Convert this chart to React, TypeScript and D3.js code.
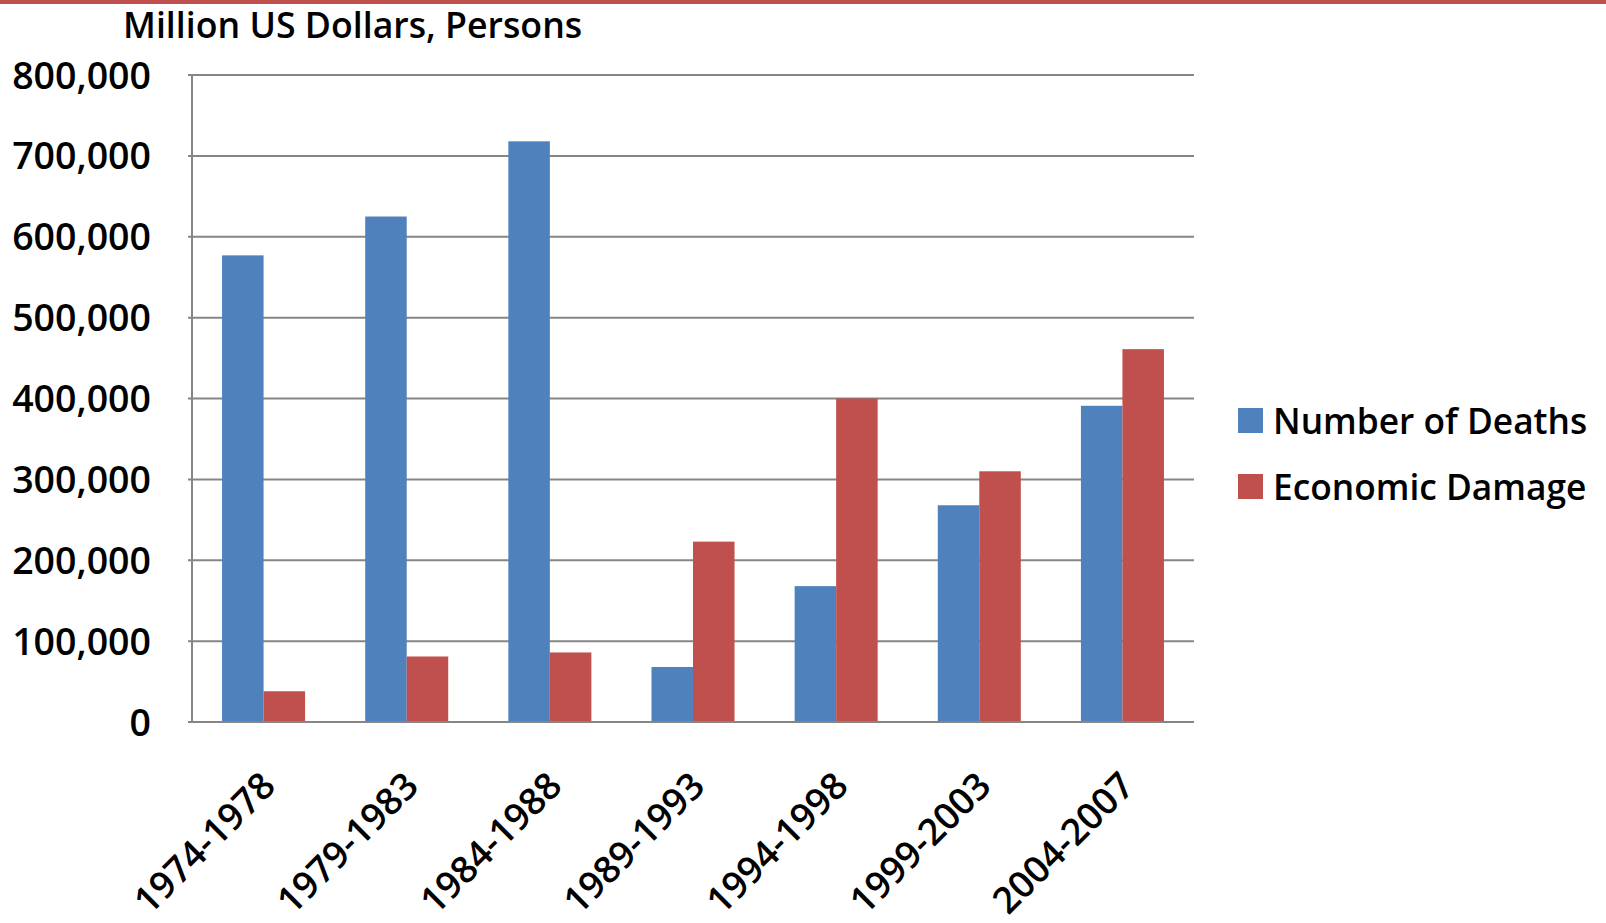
import React, { useRef, useEffect } from "react";
import * as d3 from "d3";

const periods = [
  "1974-1978",
  "1979-1983",
  "1984-1988",
  "1989-1993",
  "1994-1998",
  "1999-2003",
  "2004-2007",
];
const deaths = [577000, 625000, 718000, 68000, 168000, 268000, 391000];
const damage = [38000, 81000, 86000, 223000, 400000, 310000, 461000];
const seriesNames = ["Number of Deaths", "Economic Damage"];
const seriesColors = ["#4F81BD", "#C0504D"];
const yTicks = [0, 100000, 200000, 300000, 400000, 500000, 600000, 700000, 800000];

const chart_width = 1606;
const chart_height = 923;
const margin = { left: 192, right: 412, top: 75, bottom: 201 };
const font = "'Open Sans', 'Noto Sans', sans-serif";

const App: React.FC = () => {
  const d3Container = useRef<SVGSVGElement>(null);

  useEffect(() => {
    if (!d3Container.current) return;
    const svg = d3.select(d3Container.current);
    svg.selectAll("*").remove();

    const x0 = margin.left;
    const x1 = chart_width - margin.right;
    const yBase = chart_height - margin.bottom;

    const x_scale = d3
      .scaleBand<string>()
      .domain(periods)
      .range([x0, x1])
      .paddingInner(0.42)
      .paddingOuter(0.21);

    const x_inner = d3
      .scaleBand<number>()
      .domain([0, 1])
      .range([0, x_scale.bandwidth()]);

    const y_scale = d3
      .scaleLinear()
      .domain([0, 800000])
      .range([yBase, margin.top]);

    // top red rule
    svg
      .append("rect")
      .attr("x", 0)
      .attr("y", 0)
      .attr("width", chart_width)
      .attr("height", 4)
      .attr("fill", "#C0504D");

    // gridlines
    svg
      .append("g")
      .selectAll("line")
      .data(yTicks)
      .enter()
      .append("line")
      .attr("x1", x0 - 4)
      .attr("x2", x1)
      .attr("y1", (d) => y_scale(d))
      .attr("y2", (d) => y_scale(d))
      .attr("stroke", "#868686")
      .attr("stroke-width", 2);

    // left axis
    svg
      .append("line")
      .attr("x1", x0)
      .attr("x2", x0)
      .attr("y1", margin.top)
      .attr("y2", yBase)
      .attr("stroke", "#868686")
      .attr("stroke-width", 2);

    // y labels
    svg
      .append("g")
      .selectAll("text")
      .data(yTicks)
      .enter()
      .append("text")
      .attr("x", 151)
      .attr("y", (d) => y_scale(d))
      .attr("dy", "0.36em")
      .attr("text-anchor", "end")
      .attr("font-family", font)
      .attr("font-weight", 600)
      .attr("font-size", 37.5)
      .attr("fill", "#000")
      .text((d) => d3.format(",")(d));

    // bars
    const series = [deaths, damage];
    series.forEach((vals, si) => {
      svg
        .append("g")
        .selectAll("rect")
        .data(vals)
        .enter()
        .append("rect")
        .attr("x", (_d, i) => (x_scale(periods[i]) as number) + (x_inner(si) as number))
        .attr("y", (d) => y_scale(d))
        .attr("width", x_inner.bandwidth())
        .attr("height", (d) => yBase - y_scale(d))
        .attr("fill", seriesColors[si]);
    });

    // baseline on top of bars
    svg
      .append("line")
      .attr("x1", x0 - 4)
      .attr("x2", x1)
      .attr("y1", yBase)
      .attr("y2", yBase)
      .attr("stroke", "#868686")
      .attr("stroke-width", 2);

    // x labels
    svg
      .append("g")
      .selectAll("text")
      .data(periods)
      .enter()
      .append("text")
      .attr("transform", (d) => {
        const cx = (x_scale(d) as number) + x_scale.bandwidth() / 2 + 14;
        const cy = yBase + 66;
        return "translate(" + cx + "," + cy + ") rotate(-45)";
      })
      .attr("text-anchor", "end")
      .attr("font-family", font)
      .attr("font-weight", 600)
      .attr("font-size", 37)
      .attr("fill", "#000")
      .text((d) => d);

    // title
    svg
      .append("text")
      .attr("x", 123)
      .attr("y", 38)
      .attr("font-family", font)
      .attr("font-weight", 600)
      .attr("font-size", 35.7)
      .attr("fill", "#000")
      .text("Million US Dollars, Persons");

    // legend
    const legend = svg
      .append("g")
      .selectAll("g")
      .data(seriesNames)
      .enter()
      .append("g")
      .attr("transform", (_d, i) => "translate(1238," + (408 + i * 66) + ")");
    legend
      .append("rect")
      .attr("width", 25)
      .attr("height", 25)
      .attr("fill", (_d, i) => seriesColors[i]);
    legend
      .append("text")
      .attr("x", 35)
      .attr("y", 26)
      .attr("font-family", font)
      .attr("font-weight", 600)
      .attr("font-size", 35.3)
      .attr("fill", "#000")
      .text((d) => d);
  }, []);

  return (
    <svg
      ref={d3Container}
      width={chart_width}
      height={chart_height}
      style={{ position: "absolute", left: 0, top: 0, background: "#fff" }}
    />
  );
};

export default App;
